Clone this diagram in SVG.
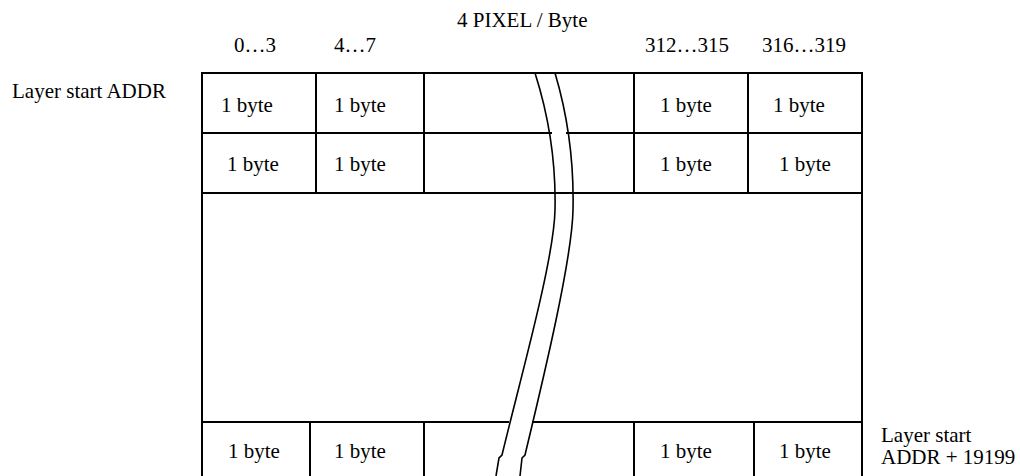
<svg xmlns="http://www.w3.org/2000/svg" width="1020" height="476" viewBox="0 0 1020 476">
<style>
.g{stroke:#000;stroke-width:2;fill:none;stroke-linecap:square}
.c{stroke:#000;stroke-width:1.6;fill:none}
text{font-family:"Liberation Serif","Times New Roman",serif;font-size:21px;fill:#000}
</style>
<rect width="1020" height="476" fill="#fff"/>
<g id="table">
<path class="g" d="M202,73 H862 M202,73 V476 M862,73 V476 M202,193 H862 M202,133 H551 M567,133 H862 M202,422 H508 M533,422 H862"/>
<path class="g" d="M316,73 V193 M424,73 V193 M634,73 V193 M748,73 V193 M310,422 V476 M424,422 V476 M634,422 V476 M754,422 V476"/>
</g>
<g id="break">
<path class="c" d="M535,73 C550,120 556,165 555,210 C554,260 520,380 502,455 L499,458 L496,476"/>
<path class="c" d="M555,73 C569,120 574,165 573,210 C572,260 543,380 525,455 L522,458 L520,476"/>
</g>
<g id="headers">
<text x="457" y="26.5">4 PIXEL / Byte</text>
<text x="234" y="52">0…3</text>
<text x="334" y="52">4…7</text>
<text x="645" y="52">312…315</text>
<text x="762" y="52">316…319</text>
</g>
<g id="labels">
<text x="12" y="98">Layer start ADDR</text>
<text x="881" y="442">Layer start</text>
<text x="881" y="464">ADDR + 19199</text>
</g>
<g id="row1">
<text x="221" y="112">1 byte</text>
<text x="334" y="112">1 byte</text>
<text x="660" y="112">1 byte</text>
<text x="773" y="112">1 byte</text>
</g>
<g id="row2">
<text x="227" y="171">1 byte</text>
<text x="334" y="171">1 byte</text>
<text x="660" y="171">1 byte</text>
<text x="779" y="171">1 byte</text>
</g>
<g id="rowN">
<text x="228" y="458">1 byte</text>
<text x="334" y="458">1 byte</text>
<text x="660" y="458">1 byte</text>
<text x="779" y="458">1 byte</text>
</g>
</svg>
